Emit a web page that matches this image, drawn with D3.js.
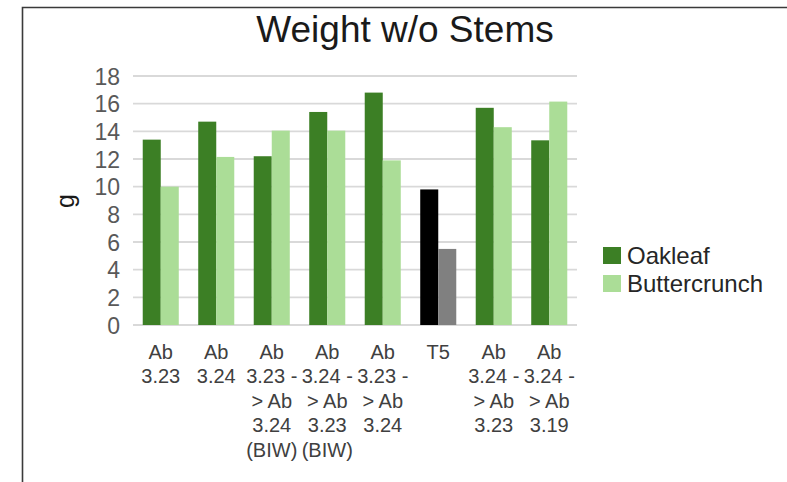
<!DOCTYPE html>
<html><head><meta charset="utf-8">
<script src="https://cdn.jsdelivr.net/npm/d3@7"></script>
<style>body{margin:0;background:#fff}svg{display:block}text{font-family:"Liberation Sans",Arial,sans-serif}</style>
</head><body><svg id="c" width="787" height="482"></svg>
<script>
const categories = ["Ab 3.23","Ab 3.24","Ab 3.23 -> Ab 3.24 (BIW)","Ab 3.24 -> Ab 3.23 (BIW)","Ab 3.23 -> Ab 3.24","T5","Ab 3.24 -> Ab 3.23","Ab 3.24 -> Ab 3.19"];
const categoryLines = [["Ab","3.23"],["Ab","3.24"],["Ab","3.23 -","> Ab","3.24","(BIW)"],["Ab","3.24 -","> Ab","3.23","(BIW)"],["Ab","3.23 -","> Ab","3.24"],["T5"],["Ab","3.24 -","> Ab","3.23"],["Ab","3.24 -","> Ab","3.19"]];
const seriesNames = ["Oakleaf","Buttercrunch"];
const oakleaf = [13.4,14.7,12.2,15.4,16.8,9.8,15.7,13.35];
const buttercrunch = [10.0,12.15,14.05,14.05,11.9,5.5,14.3,16.15];
const yTicks = [0,2,4,6,8,10,12,14,16,18];
const seriesColors = ["#3c7f25","#abdd97"];
const controlColors = ["#000000","#808080"];
const controlCategory = "T5";

const svg = d3.select("#c");
// frame
svg.append("path").attr("d","M22.5,482 V7.5 H787").attr("fill","none").attr("stroke","#3a3a3a").attr("stroke-width",1.6);

const x0 = d3.scaleBand().domain(categories).range([133,577]).padding(0);
const x1 = d3.scaleBand().domain(seriesNames).range([0,x0.bandwidth()]).paddingInner(0).paddingOuter(0.54);
const y = d3.scaleLinear().domain([0,18]).range([325,76]);

// gridlines
svg.append("g").selectAll("line").data(yTicks).join("line")
  .attr("x1",133).attr("x2",577).attr("y1",d=>y(d)).attr("y2",d=>y(d))
  .attr("stroke","#d9d9d9").attr("stroke-width",1.8);

// y axis labels
const yAxis = svg.append("g").attr("transform","translate(120,0)")
  .call(d3.axisLeft(y).tickValues(yTicks).tickSize(0).tickPadding(0));
yAxis.select(".domain").remove();
yAxis.selectAll("text").attr("font-size",23).attr("fill","#595959").attr("dy","0.36em")
  .style("font-family","'Liberation Sans',Arial,sans-serif");

// bars
const data = categories.map((c,i)=>({c,vals:[oakleaf[i],buttercrunch[i]]}));
const groups = svg.append("g").selectAll("g").data(data).join("g")
  .attr("transform",d=>`translate(${x0(d.c)},0)`);
groups.selectAll("rect").data(d=>d.vals.map((v,j)=>({c:d.c,s:seriesNames[j],j,v}))).join("rect")
  .attr("x",d=>x1(d.s)).attr("width",x1.bandwidth())
  .attr("y",d=>y(d.v)).attr("height",d=>y(0)-y(d.v))
  .attr("fill",d=>d.c===controlCategory?controlColors[d.j]:seriesColors[d.j]);

// x labels
const xl = svg.append("g").selectAll("text").data(categories).join("text")
  .attr("text-anchor","middle").attr("font-size",20).attr("fill","#404040")
  .attr("x",d=>x0(d)+x0.bandwidth()/2).attr("y",359);
xl.each(function(d,i){
  d3.select(this).selectAll("tspan").data(categoryLines[i]).join("tspan")
    .attr("x",x0(d)+x0.bandwidth()/2).attr("dy",(t,k)=>k===0?0:24.4).text(t=>t);
});

// title
svg.append("text").attr("x",405).attr("y",42).attr("text-anchor","middle")
  .attr("font-size",37).attr("fill","#1a1a1a").text("Weight w/o Stems");

// y title
svg.append("text").attr("transform","translate(74,201) rotate(-90)").attr("text-anchor","middle")
  .attr("font-size",25).attr("fill","#1a1a1a").text("g");

// legend
const lg = svg.append("g").selectAll("g").data(seriesNames).join("g")
  .attr("transform",(d,i)=>`translate(603,${247+i*28})`);
lg.append("rect").attr("width",18).attr("height",17).attr("fill",(d,i)=>seriesColors[i]);
lg.append("text").attr("x",24).attr("y",8.5).attr("dy","0.36em").attr("font-size",24)
  .attr("fill","#262626").text(d=>d);
</script></body></html>
